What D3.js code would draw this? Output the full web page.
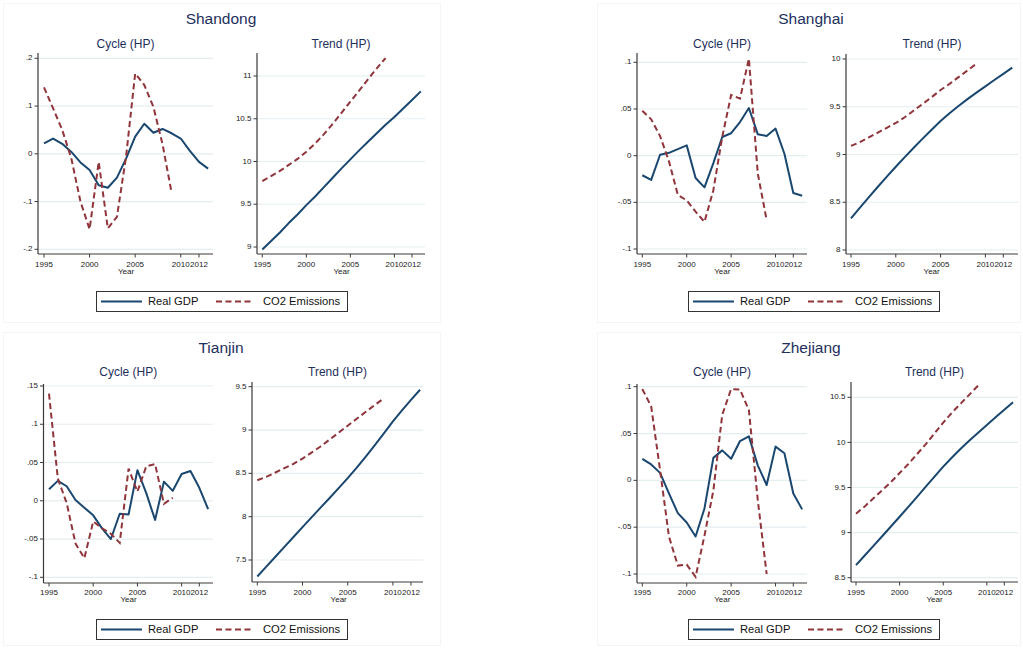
<!DOCTYPE html>
<html>
<head>
<meta charset="utf-8">
<script src="https://cdn.jsdelivr.net/npm/d3@7"></script>
<style>
  html, body { margin: 0; padding: 0; background: #ffffff; }
  svg { display: block; font-family: "Liberation Sans", Arial, Helvetica, sans-serif; }
</style>
</head>
<body>
<svg id="chart" width="1023" height="648"></svg>
<script>
// ---------------- DATA ----------------
const yearsGDP = [1995,1996,1997,1998,1999,2000,2001,2002,2003,2004,2005,2006,2007,2008,2009,2010,2011,2012,2013];
const yearsCO2 = [1995,1996,1997,1998,1999,2000,2001,2002,2003,2004,2005,2006,2007,2008,2009];
const xTickValues = [1995,2000,2005,2010,2012];
const xTickLabels = ["1995","2000","2005","2010","2012"];
const seriesNames = ["Real GDP","CO2 Emissions"];
const provinceNames = ["Shandong","Shanghai","Tianjin","Zhejiang"];
const subTitles = ["Cycle (HP)","Trend (HP)"];
const xAxisTitle = "Year";

// Shandong
const shandongCycleGDP = [0.022,0.032,0.021,0.004,-0.018,-0.034,-0.066,-0.071,-0.050,-0.010,0.036,0.063,0.044,0.052,0.043,0.032,0.006,-0.017,-0.031];
const shandongCycleCO2 = [0.139,0.095,0.050,-0.010,-0.100,-0.158,-0.017,-0.156,-0.132,-0.006,0.168,0.144,0.098,0.020,-0.082];
const shandongTrendGDP = [8.97,9.07,9.17,9.28,9.38,9.49,9.59,9.70,9.81,9.92,10.025,10.13,10.23,10.33,10.43,10.52,10.62,10.72,10.82];
const shandongTrendCO2 = [9.77,9.83,9.89,9.96,10.03,10.115,10.21,10.32,10.44,10.57,10.70,10.83,10.96,11.09,11.21];
const shandongCycleTicks = [-0.2,-0.1,0,0.1,0.2];
const shandongCycleTickLabels = ["-.2","-.1","0",".1",".2"];
const shandongTrendTicks = [9,9.5,10,10.5,11];
const shandongTrendTickLabels = ["9","9.5","10","10.5","11"];

// Shanghai
const shanghaiCycleGDP = [-0.021,-0.026,0.001,0.003,0.007,0.011,-0.024,-0.034,-0.008,0.020,0.024,0.036,0.051,0.023,0.021,0.029,0.002,-0.040,-0.043];
const shanghaiCycleCO2 = [0.048,0.039,0.021,-0.006,-0.042,-0.048,-0.060,-0.071,-0.037,0.020,0.065,0.061,0.104,-0.019,-0.069];
const shanghaiTrendGDP = [8.332,8.444,8.554,8.662,8.768,8.872,8.973,9.071,9.166,9.259,9.350,9.432,9.508,9.580,9.648,9.714,9.780,9.844,9.909];
const shanghaiTrendCO2 = [9.09,9.13,9.18,9.23,9.28,9.33,9.39,9.46,9.53,9.60,9.675,9.74,9.81,9.88,9.95];
const shanghaiCycleTicks = [-0.1,-0.05,0,0.05,0.1];
const shanghaiCycleTickLabels = ["-.1","-.05","0",".05",".1"];
const shanghaiTrendTicks = [8,8.5,9,9.5,10];
const shanghaiTrendTickLabels = ["8","8.5","9","9.5","10"];

// Tianjin
const tianjinCycleGDP = [0.015,0.026,0.019,0.001,-0.009,-0.019,-0.036,-0.050,-0.017,-0.018,0.040,0.010,-0.025,0.025,0.013,0.035,0.039,0.017,-0.011];
const tianjinCycleCO2 = [0.140,0.029,-0.003,-0.056,-0.075,-0.027,-0.036,-0.043,-0.055,0.042,0.012,0.045,0.048,-0.004,0.004];
const tianjinTrendGDP = [7.310,7.424,7.538,7.652,7.766,7.880,7.992,8.104,8.216,8.330,8.445,8.565,8.693,8.826,8.962,9.099,9.226,9.348,9.465];
const tianjinTrendCO2 = [8.42,8.46,8.51,8.56,8.61,8.67,8.74,8.81,8.89,8.97,9.05,9.13,9.21,9.29,9.365];
const tianjinCycleTicks = [-0.1,-0.05,0,0.05,0.1,0.15];
const tianjinCycleTickLabels = ["-.1","-.05","0",".05",".1",".15"];
const tianjinTrendTicks = [7.5,8,8.5,9,9.5];
const tianjinTrendTickLabels = ["7.5","8","8.5","9","9.5"];

// Zhejiang
const zhejiangCycleGDP = [0.023,0.017,0.008,-0.014,-0.035,-0.045,-0.060,-0.030,0.024,0.032,0.023,0.042,0.047,0.016,-0.005,0.036,0.029,-0.014,-0.031];
const zhejiangCycleCO2 = [0.0975,0.079,0.011,-0.060,-0.091,-0.090,-0.103,-0.059,-0.011,0.070,0.0975,0.097,0.075,-0.021,-0.100];
const zhejiangTrendGDP = [8.640,8.746,8.853,8.960,9.068,9.176,9.286,9.397,9.509,9.620,9.731,9.833,9.929,10.020,10.108,10.193,10.278,10.362,10.445];
const zhejiangTrendCO2 = [9.21,9.29,9.38,9.47,9.56,9.66,9.76,9.87,9.98,10.10,10.22,10.33,10.43,10.53,10.63];
const zhejiangCycleTicks = [-0.1,-0.05,0,0.05,0.1];
const zhejiangCycleTickLabels = ["-.1","-.05","0",".05",".1"];
const zhejiangTrendTicks = [8.5,9,9.5,10,10.5];
const zhejiangTrendTickLabels = ["8.5","9","9.5","10","10.5"];

// ---------------- LAYOUT (positions only) ----------------
const layout = [
  { title: {x:221, y:20}, frame:{x:3.5,y:3.5,w:437,h:319}, legend:{x:96.5,y:291.5,w:251,h:20},
    plots: [
      {ax:38, ar:213, at:53, ab:254, xr:[44,199],   yr:[249.3,58.3], titleY:45, tickY:265, yearY:272},
      {ax:257, ar:425, at:53, ab:254, xr:[262.3,412], yr:[247,76],   titleY:45, tickY:265, yearY:272}
    ]},
  { title: {x:811, y:20}, frame:{x:597.5,y:3.5,w:423,h:319}, legend:{x:688.5,y:291.5,w:251,h:20},
    plots: [
      {ax:637, ar:807, at:53, ab:254, xr:[642.3,793.3], yr:[249,62.3], titleY:45, tickY:265, yearY:272},
      {ax:846, ar:1018, at:54, ab:254, xr:[851,1003.3], yr:[250,59],   titleY:45, tickY:265, yearY:272}
    ]},
  { title: {x:221, y:349}, frame:{x:3.5,y:332.5,w:437,h:313}, legend:{x:96.5,y:619.5,w:251,h:20},
    plots: [
      {ax:43.5, ar:213, at:384, ab:583, xr:[49,199.3], yr:[577.3,386], titleY:373, tickY:592.5, yearY:600},
      {ax:252, ar:423, at:382, ab:582, xr:[257.3,411], yr:[560,386.7], titleY:373, tickY:592.5, yearY:600}
    ]},
  { title: {x:811, y:349}, frame:{x:597.5,y:332.5,w:423,h:313}, legend:{x:688.5,y:619.5,w:251,h:20},
    plots: [
      {ax:637, ar:807, at:384, ab:583, xr:[642.3,793.3], yr:[574,386.7], titleY:373, tickY:592.5, yearY:600},
      {ax:851, ar:1018, at:382, ab:582, xr:[856,1004.3], yr:[577.7,397.3], titleY:373, tickY:592.5, yearY:600}
    ]}
];

const provinceData = [
  { cycle:{gdp:shandongCycleGDP, co2:shandongCycleCO2, ticks:shandongCycleTicks, labels:shandongCycleTickLabels},
    trend:{gdp:shandongTrendGDP, co2:shandongTrendCO2, ticks:shandongTrendTicks, labels:shandongTrendTickLabels} },
  { cycle:{gdp:shanghaiCycleGDP, co2:shanghaiCycleCO2, ticks:shanghaiCycleTicks, labels:shanghaiCycleTickLabels},
    trend:{gdp:shanghaiTrendGDP, co2:shanghaiTrendCO2, ticks:shanghaiTrendTicks, labels:shanghaiTrendTickLabels} },
  { cycle:{gdp:tianjinCycleGDP, co2:tianjinCycleCO2, ticks:tianjinCycleTicks, labels:tianjinCycleTickLabels},
    trend:{gdp:tianjinTrendGDP, co2:tianjinTrendCO2, ticks:tianjinTrendTicks, labels:tianjinTrendTickLabels} },
  { cycle:{gdp:zhejiangCycleGDP, co2:zhejiangCycleCO2, ticks:zhejiangCycleTicks, labels:zhejiangCycleTickLabels},
    trend:{gdp:zhejiangTrendGDP, co2:zhejiangTrendCO2, ticks:zhejiangTrendTicks, labels:zhejiangTrendTickLabels} }
];

// ---------------- STYLE ----------------
const gdpColor = "#1a476f";
const co2Color = "#90353b";
const titleColor = "#1e2f5c";
const gridColor = "#e4edf0";
const axisColor = "#3a3a3a";
const dash = "6,3.5";

const svg = d3.select("#chart");

provinceNames.forEach((name, pi) => {
  const L = layout[pi];
  const D = provinceData[pi];
  const g = svg.append("g");

  // faint panel frame
  g.append("rect").attr("x", L.frame.x).attr("y", L.frame.y)
    .attr("width", L.frame.w).attr("height", L.frame.h)
    .attr("fill", "none").attr("stroke", "#f5f5f5").attr("stroke-width", 1);

  // province title
  g.append("text").attr("x", L.title.x).attr("y", L.title.y)
    .attr("text-anchor", "middle").attr("dominant-baseline", "middle")
    .attr("font-size", 15.5).attr("fill", titleColor).text(name);

  [D.cycle, D.trend].forEach((S, si) => {
    const P = L.plots[si];
    const x = d3.scaleLinear().domain([1995, 2012]).range(P.xr);
    const y = d3.scaleLinear().domain([S.ticks[0], S.ticks[S.ticks.length - 1]]).range(P.yr);
    const pg = g.append("g");

    // gridlines
    pg.selectAll("line.grid").data(S.ticks).join("line")
      .attr("x1", P.ax).attr("x2", P.ar)
      .attr("y1", d => y(d)).attr("y2", d => y(d))
      .attr("stroke", gridColor).attr("stroke-width", 1.2);

    // subplot title
    pg.append("text").attr("x", (P.ax + P.ar) / 2).attr("y", P.titleY)
      .attr("text-anchor", "middle").attr("dominant-baseline", "middle")
      .attr("font-size", 12).attr("fill", titleColor).text(subTitles[si]);

    // lines
    const line = d3.line().x(d => x(d[0])).y(d => y(d[1]));
    pg.append("path").datum(yearsGDP.map((yr, i) => [yr, S.gdp[i]]))
      .attr("d", line).attr("fill", "none").attr("stroke", gdpColor)
      .attr("stroke-width", 2).attr("stroke-linejoin", "round");
    pg.append("path").datum(yearsCO2.map((yr, i) => [yr, S.co2[i]]))
      .attr("d", line).attr("fill", "none").attr("stroke", co2Color)
      .attr("stroke-width", 2).attr("stroke-dasharray", dash);

    // y axis
    pg.append("line").attr("x1", P.ax).attr("x2", P.ax).attr("y1", P.at).attr("y2", P.ab)
      .attr("stroke", axisColor).attr("stroke-width", 1.2);
    pg.selectAll("line.yt").data(S.ticks).join("line")
      .attr("x1", P.ax - 3.5).attr("x2", P.ax)
      .attr("y1", d => y(d)).attr("y2", d => y(d))
      .attr("stroke", axisColor).attr("stroke-width", 1);
    pg.selectAll("text.yl").data(S.ticks).join("text")
      .attr("x", P.ax - 5.5).attr("y", d => y(d))
      .attr("text-anchor", "end").attr("dominant-baseline", "middle")
      .attr("font-size", 8).attr("fill", "#222").text((d, i) => S.labels[i]);

    // x axis
    pg.append("line").attr("x1", P.ax).attr("x2", P.ar).attr("y1", P.ab).attr("y2", P.ab)
      .attr("stroke", axisColor).attr("stroke-width", 1.2);
    pg.selectAll("line.xt").data(xTickValues).join("line")
      .attr("x1", d => x(d)).attr("x2", d => x(d))
      .attr("y1", P.ab).attr("y2", P.ab + 3.5)
      .attr("stroke", axisColor).attr("stroke-width", 1);
    pg.selectAll("text.xl").data(xTickValues).join("text")
      .attr("x", d => x(d)).attr("y", P.tickY)
      .attr("text-anchor", "middle").attr("dominant-baseline", "middle")
      .attr("font-size", 8).attr("fill", "#222").text((d, i) => xTickLabels[i]);
    pg.append("text").attr("x", (P.xr[0] + P.xr[1]) / 2 + (x(2013) - P.xr[1]) / 2).attr("y", P.yearY)
      .attr("text-anchor", "middle").attr("dominant-baseline", "middle")
      .attr("font-size", 8).attr("fill", "#222").text(xAxisTitle);
  });

  // legend
  const lg = g.append("g");
  const LB = L.legend;
  lg.append("rect").attr("x", LB.x).attr("y", LB.y).attr("width", LB.w).attr("height", LB.h)
    .attr("fill", "#fff").attr("stroke", "#333").attr("stroke-width", 1);
  const cy = LB.y + LB.h / 2;
  lg.append("line").attr("x1", LB.x + 4.5).attr("x2", LB.x + 45.5).attr("y1", cy).attr("y2", cy)
    .attr("stroke", gdpColor).attr("stroke-width", 2);
  lg.append("text").attr("x", LB.x + 51.5).attr("y", cy + 0.5).attr("dominant-baseline", "middle")
    .attr("font-size", 11.2).attr("fill", "#111").text(seriesNames[0]);
  lg.append("line").attr("x1", LB.x + 119.5).attr("x2", LB.x + 155).attr("y1", cy).attr("y2", cy)
    .attr("stroke", co2Color).attr("stroke-width", 2).attr("stroke-dasharray", dash);
  lg.append("text").attr("x", LB.x + 166.5).attr("y", cy + 0.5).attr("dominant-baseline", "middle")
    .attr("font-size", 11.2).attr("fill", "#111").text(seriesNames[1]);
});
</script>
</body>
</html>
